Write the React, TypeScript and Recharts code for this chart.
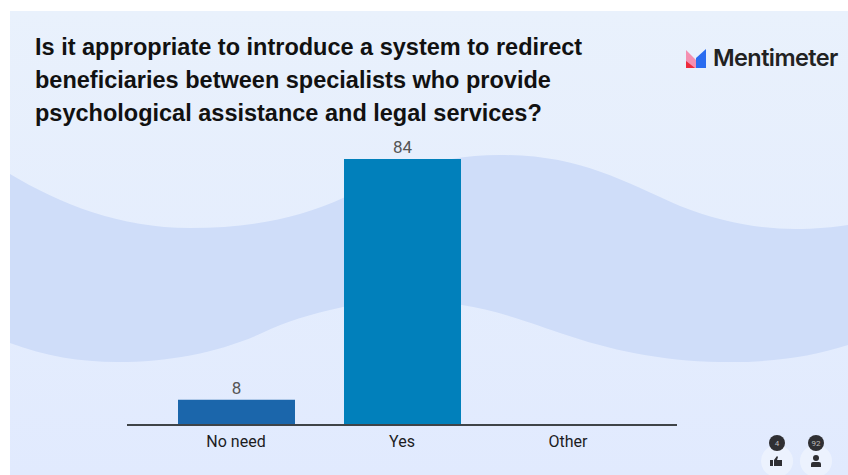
import { BarChart, Bar, Cell, XAxis, YAxis, LabelList } from 'recharts';

const categories = ['No need', 'Yes', 'Other'];
const votes = [8, 84, 0];
const barColors = ['#1b66ab', '#0180bb', '#0180bb'];
const titleLines = [
  'Is it appropriate to introduce a system to redirect',
  'beneficiaries between specialists who provide',
  'psychological assistance and legal services?',
];

const chartData = categories.map((name, i) => ({ name, votes: votes[i] }));

const WAVE_PATH =
  'M10 174 C60 204 120 228 190 228 C250 228 300 218 343 198 C385 178 430 155 500 155 ' +
  'C580 155 620 180 680 206 C720 222 760 229 795 229 C815 229 835 227 848 225 ' +
  'L848 345 C810 357 770 363 720 362 C660 361 610 350 560 333 C520 319 490 309 462 305 ' +
  'C420 299 380 300 343 307 C310 314 285 322 262 333 C220 352 170 362 117 362 C80 362 45 356 10 343 Z';

function Backdrop() {
  return (
    <svg width={848} height={475} style={{ position: 'absolute', left: 0, top: 0 }}>
      <defs>
        <linearGradient id="slideBg" x1="0" y1="0" x2="0" y2="1">
          <stop offset="0" stopColor="#e9f1fc" />
          <stop offset="1" stopColor="#e1eafe" />
        </linearGradient>
      </defs>
      <rect x={10} y={11} width={838} height={464} fill="url(#slideBg)" />
      <path d={WAVE_PATH} fill="#cfddf9" />
    </svg>
  );
}

function Logo() {
  return (
    <svg width={848} height={475} style={{ position: 'absolute', left: 0, top: 0 }}>
      <polygon points="686,50 696,60 696,68 686,68" fill="#f48fb1" />
      <polygon points="686,61 695,68 686,68" fill="#ee2a3c" />
      <polygon points="696,58 706,49 706,68 696,68" fill="#2a6cf0" />
      <text
        x={713}
        y={66}
        fontFamily="Inter"
        fontWeight={600}
        fontSize={23.5}
        letterSpacing={-0.6}
        fill="#222"
      >
        Mentimeter
      </text>
    </svg>
  );
}

// small counters in the bottom right corner
function Counters() {
  return (
    <svg width={848} height={475} style={{ position: 'absolute', left: 0, top: 0 }}>
      <circle cx={777} cy={461} r={16} fill="#ecf2fe" />
      <circle cx={816} cy={461} r={16} fill="#ecf2fe" />
      <circle cx={777} cy={443} r={8} fill="#2f2f33" />
      <circle cx={816} cy={443} r={8} fill="#2f2f33" />
      <text x={777} y={446} textAnchor="middle" fontFamily="Roboto" fontSize={8} fill="#bbb">
        4
      </text>
      <text x={816} y={446} textAnchor="middle" fontFamily="Roboto" fontSize={8} fill="#bbb">
        92
      </text>
      <path d="M770 460 h3 v6 h-3 Z M774 460 l3 -4 l1 1 l-1 3 h5 v6 h-8 Z" fill="#2f2f33" />
      <circle cx={816} cy={458} r={3} fill="#2f2f33" />
      <path d="M811 467 v-3 q0 -2 2 -2 h6 q2 0 2 2 v3 Z" fill="#2f2f33" />
    </svg>
  );
}

export default function App() {
  return (
    <div
      style={{
        position: 'absolute',
        left: 0,
        top: 0,
        width: 848,
        height: 475,
        overflow: 'hidden',
        background: '#fff',
      }}
    >
      <Backdrop />
      <div style={{ position: 'absolute', left: 0, top: 0 }}>
        <BarChart
          width={848}
          height={475}
          data={chartData}
          margin={{ top: 159, right: 171, bottom: 0, left: 127 }}
        >
          <XAxis
            dataKey="name"
            height={50}
            padding={{ left: 26, right: 26 }}
            tickLine={false}
            axisLine={{ stroke: '#3f4448', strokeWidth: 2 }}
            tick={{ fill: '#1c1c1e', fontFamily: 'Roboto', fontSize: 16 }}
            tickMargin={5}
          />
          <YAxis hide domain={[0, 84]} />
          <Bar dataKey="votes" barSize={117} isAnimationActive={false}>
            {chartData.map((row, i) => (
              <Cell key={row.name} fill={barColors[i]} />
            ))}
            <LabelList
              dataKey="votes"
              position="top"
              offset={6}
              fill="#555"
              fontFamily="Roboto"
              fontSize={17}
              formatter={(v: any) => (v > 0 ? v : '')}
            />
          </Bar>
        </BarChart>
      </div>
      <svg width={848} height={140} style={{ position: 'absolute', left: 0, top: 0 }}>
        {titleLines.map((line, i) => (
          <text
            key={line}
            x={35}
            y={55 + i * 33}
            fontFamily="Liberation Sans"
            fontWeight={700}
            fontSize={23.5}
            fill="#111"
          >
            {line}
          </text>
        ))}
      </svg>
      <Logo />
      <Counters />
    </div>
  );
}
